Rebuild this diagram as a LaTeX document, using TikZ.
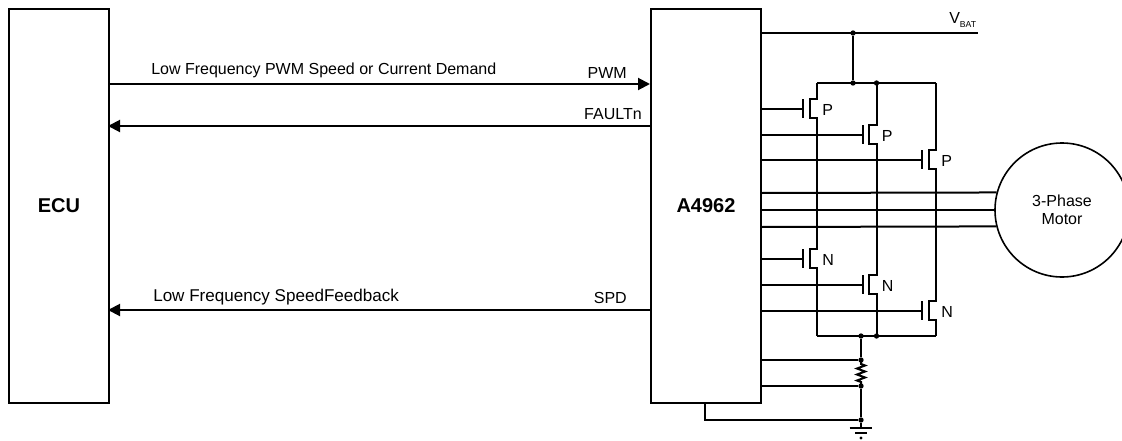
\documentclass[tikz,border=0pt]{standalone}
\usepackage{fontspec}
\setmainfont{Liberation Sans}
\usetikzlibrary{arrows.meta}
\usetikzlibrary{decorations.pathmorphing}

\tikzset{
  wire/.style={line width=1.5pt},
  thin wire/.style={line width=1.2pt},
  chip/.style={draw,line width=1.5pt,anchor=north west,inner sep=0pt,font=\bfseries\fontsize{15}{16}\selectfont},
  lbl/.style={inner sep=0pt,font=\fontsize{12}{13.5}\selectfont},
  dot/.style={circle,fill=black,inner sep=0pt,minimum size=4pt},
  sig/.style={wire,-{Triangle[length=9pt,width=9pt]}}
}

\begin{document}
\begin{tikzpicture}
  [x=0.75pt,y=-0.75pt]
  \useasboundingbox (0,0) rectangle (1122,440);

  \node[chip,minimum width=75pt,minimum height=295.5pt] (ecu) at (8,8) {ECU};
  \node[chip,minimum width=82.5pt,minimum height=295.5pt] (a4962) at (650,8) {A4962};
  \node[draw,circle,line width=1.2pt,minimum size=100.5pt,inner sep=0pt,align=center,lbl] (motor) at (1062,210) {3-Phase\\Motor};

  % signals between the two boxes
  \coordinate (pwml) at (108,84);
  \coordinate (pwmr) at (650,84);
  \coordinate (faultl) at (108,126);
  \coordinate (faultr) at (650,126);
  \coordinate (spdl) at (108,310);
  \coordinate (spdr) at (650,310);
  \draw[sig] (pwml) -- (pwmr);
  \draw[sig] (faultr) -- (faultl);
  \draw[sig] (spdr) -- (spdl);
  \node[lbl,anchor=west] (pwmtext) at (151,70) {Low Frequency PWM Speed or Current Demand};
  \node[lbl,anchor=east] (pwmpin) at (627,73) {PWM};
  \node[lbl,anchor=east] (faultpin) at (642,114) {FAULTn};
  \node[lbl,anchor=west,font=\fontsize{12.8}{14}\selectfont] (spdtext) at (153,297) {Low Frequency SpeedFeedback};
  \node[lbl,anchor=east] (spdpin) at (627,298) {SPD};

  % supply
  \coordinate (vbatl) at (760,33);
  \coordinate (vbatr) at (978,33);
  \node[dot] (d1) at (853,33) {};
  \node[dot] (d2) at (853,83) {};
  \node[dot] (d3) at (876.5,83) {};
  \node[inner sep=0pt,anchor=west] (vbat) at (949,20) {\fontsize{12}{13}\selectfont V\raisebox{-2.5pt}{\fontsize{6.5}{7}\selectfont BAT}};
  \draw[wire] (vbatl) -- (vbatr);
  \draw[wire] (d1) -- (d2);

  % bridge legs: high side then low side
  \foreach \name/\lx/\py/\ny in {a/817/109/259,b/876.5/135/285,c/936/160/311} {
    \coordinate (\name top) at (\lx,83);
    \coordinate (\name bot) at (\lx,336);
    \coordinate (\name pl) at (760,\py);
    \coordinate (\name pg) at (\lx-14,\py);
    \coordinate (\name nl) at (760,\ny);
    \coordinate (\name ng) at (\lx-14,\ny);
    \draw[wire] (\name top) -- (\lx,\py-10) -- (\lx-7.5,\py-10) -- (\lx-7.5,\py+9) -- (\lx,\py+9)
      -- (\lx,\ny-10) -- (\lx-7.5,\ny-10) -- (\lx-7.5,\ny+9) -- (\lx,\ny+9) -- (\name bot);
    \draw[thin wire] (\name pl) -- (\name pg);
    \draw[thin wire] (\name nl) -- (\name ng);
    \draw[wire] (\lx-14,\py-10) -- (\lx-14,\py+9);
    \draw[wire] (\lx-14,\ny-10) -- (\lx-14,\ny+9);
    \node[lbl,anchor=west] (\name ptext) at (\lx+5,\py+1) {P};
    \node[lbl,anchor=west] (\name ntext) at (\lx+5,\ny+1) {N};
  }
  \draw[wire] (atop) -- (ctop);
  \draw[wire] (abot) -- (cbot);

  % motor phases
  \foreach \y/\a in {193/165.3,210/180,227/194.7} {
    \coordinate (ph\y) at (760,\y);
    \draw[wire] (ph\y) -- (motor.\a);
  }

  % sense resistor and ground
  \node[dot] (d4) at (861,336) {};
  \node[dot] (d5) at (876.5,336) {};
  \node[dot] (d6) at (861,360) {};
  \node[dot] (d7) at (861,386) {};
  \node[dot] (d8) at (861,420) {};
  \coordinate (rsl) at (760,360);
  \coordinate (rsr) at (760,386);
  \coordinate (gndl) at (705,402);
  \coordinate (gnd1) at (861,428);
  \coordinate (gnd2) at (861,433);
  \draw[wire] (d4) -- (d6);
  \draw[wire] (rsl) -- (d6);
  \draw[wire] (rsr) -- (d7);
  \draw[wire,decorate,decoration={zigzag,segment length=4.5pt,amplitude=3pt,pre length=3pt,post length=3pt}] (d6.center) -- (d7.center);
  \draw[wire] (d7) -- (d8);
  \draw[wire] (gndl) |- (d8);
  \draw[wire] (d8) -- (gnd1);
  \draw[wire] ([xshift=-8.5pt]gnd1) -- ([xshift=8.5pt]gnd1);
  \draw[wire] ([xshift=-4.5pt]gnd2) -- ([xshift=4.5pt]gnd2);
  \node[circle,fill=black,inner sep=0pt,minimum size=2.5pt] (d9) at (861,438) {};
\end{tikzpicture}
\end{document}
